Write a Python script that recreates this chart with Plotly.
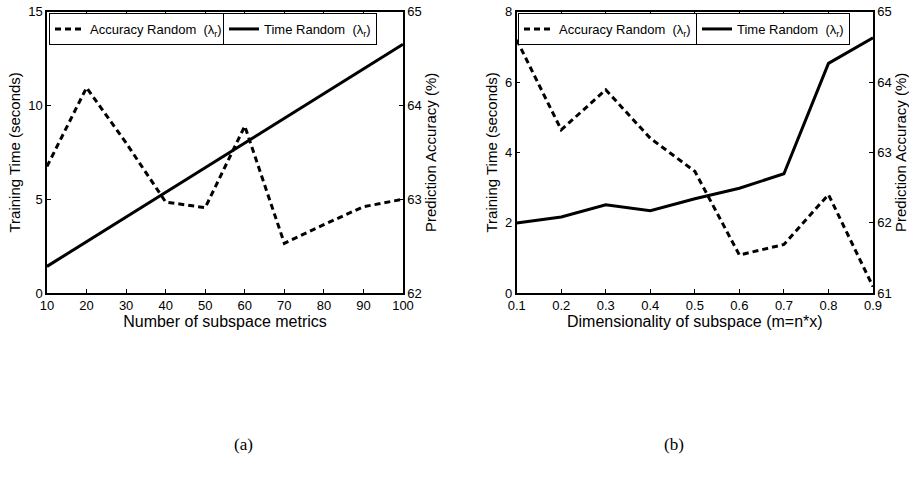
import plotly.graph_objects as go

# ---- data ----
metrics = [10, 20, 30, 40, 50, 60, 70, 80, 90, 100]
time_a = [1.42, 2.74, 4.05, 5.37, 6.68, 8.0, 9.32, 10.63, 11.95, 13.26]
acc_a = [63.35, 64.19, 63.6, 62.97, 62.91, 63.78, 62.53, 62.73, 62.92, 63.0]

dims = [0.1, 0.2, 0.3, 0.4, 0.5, 0.6, 0.7, 0.8, 0.9]
time_b = [1.99, 2.16, 2.51, 2.34, 2.68, 2.98, 3.39, 6.53, 7.26]
acc_b = [64.6, 63.32, 63.89, 63.2, 62.73, 61.54, 61.69, 62.40, 61.09]

ticks_xa = [10, 20, 30, 40, 50, 60, 70, 80, 90, 100]
ticks_ya = [0, 5, 10, 15]
ticks_y2a = [62, 63, 64, 65]
ticks_xb = [0.1, 0.2, 0.3, 0.4, 0.5, 0.6, 0.7, 0.8, 0.9]
ticks_yb = [0, 2, 4, 6, 8]
ticks_y2b = [61, 62, 63, 64, 65]

acc_name = "Accuracy Random  (λ<sub>r</sub>)"
time_name = "Time Random  (λ<sub>r</sub>)"

FONT = "Liberation Sans, Arial, sans-serif"
dash = "6px,4px"

W, H = 909, 502

def px(x):
    return x / W

def py(y):
    return 1 - y / H

fig = go.Figure()
fig.add_trace(go.Scatter(x=metrics, y=acc_a, xaxis="x", yaxis="y2", mode="lines",
                         line=dict(color="black", width=3, dash=dash), name=acc_name, legend="legend"))
fig.add_trace(go.Scatter(x=metrics, y=time_a, xaxis="x", yaxis="y", mode="lines",
                         line=dict(color="black", width=3), name=time_name, legend="legend2"))
fig.add_trace(go.Scatter(x=dims, y=acc_b, xaxis="x2", yaxis="y4", mode="lines",
                         line=dict(color="black", width=3, dash=dash), name=acc_name, legend="legend3"))
fig.add_trace(go.Scatter(x=dims, y=time_b, xaxis="x2", yaxis="y3", mode="lines",
                         line=dict(color="black", width=3), name=time_name, legend="legend4"))

tickfont = dict(family=FONT, size=13, color="black")
ytitlefont = dict(family=FONT, size=15, color="black")
xtitlefont = dict(family=FONT, size=16, color="black")

def xax(domain, rng, ticks, title, anchor):
    return dict(domain=domain, range=rng, tickvals=ticks, ticktext=[str(t) for t in ticks],
                showline=True, linecolor="black", linewidth=1.5, mirror="ticks",
                ticks="inside", ticklen=4, tickcolor="black", showgrid=False, zeroline=False,
                tickfont=tickfont, title=dict(text=title, font=xtitlefont, standoff=0),
                anchor=anchor, automargin=False)

def yax(domain, rng, ticks, title, anchor, side="left", overlaying=None):
    d = dict(domain=domain, range=rng, tickvals=ticks, showline=True, linecolor="black", linewidth=1.5,
             ticks="inside", ticklen=4, tickcolor="black", showgrid=False, zeroline=False,
             tickfont=tickfont, title=dict(text=title, font=ytitlefont, standoff=4),
             anchor=anchor, side=side, automargin=False, ticklabeloverflow="allow")
    if overlaying:
        d["overlaying"] = overlaying
    return d

ydom = [py(293), py(11.7)]
fig.update_layout(
    width=W, height=H, margin=dict(l=0, r=0, t=0, b=0),
    paper_bgcolor="white", plot_bgcolor="white",
    xaxis=xax([px(47), px(403)], [10, 100], ticks_xa, "Number of subspace metrics", "y"),
    yaxis=yax(ydom, [0, 15], ticks_ya, "Training Time (seconds)", "x"),
    yaxis2=yax(ydom, [62, 65], ticks_y2a, "Prediction Accuracy (%)", "x", side="right", overlaying="y"),
    xaxis2=xax([px(516.7), px(873)], [0.1, 0.9], ticks_xb, "Dimensionality of subspace (m=n*x)", "y3"),
    yaxis3=yax(ydom, [0, 8], ticks_yb, "Training Time (seconds)", "x2"),
    yaxis4=yax(ydom, [61, 65], ticks_y2b, "Prediction Accuracy (%)", "x2", side="right", overlaying="y3"),
    showlegend=True,
)

def leg(x):
    return dict(x=px(x), y=py(13), xanchor="left", yanchor="top", bgcolor="white",
                bordercolor="black", borderwidth=1, font=dict(family=FONT, size=13, color="black"),
                itemwidth=30, tracegroupgap=0)

fig.update_layout(legend=leg(49), legend2=leg(223), legend3=leg(518), legend4=leg(696))

capfont = dict(family="Liberation Serif, Times New Roman, serif", size=17, color="black")
fig.add_annotation(text="(a)", x=px(232), y=py(456), xref="paper", yref="paper", showarrow=False, font=capfont)
fig.add_annotation(text="(b)", x=px(686), y=py(456), xref="paper", yref="paper", showarrow=False, font=capfont)

# remove the default 8px page margin so the figure sits at the window's top-left corner
fig.write_html("out.html", config={"displayModeBar": False},
               post_script="document.body.style.margin='0px';document.body.style.overflow='hidden';")
